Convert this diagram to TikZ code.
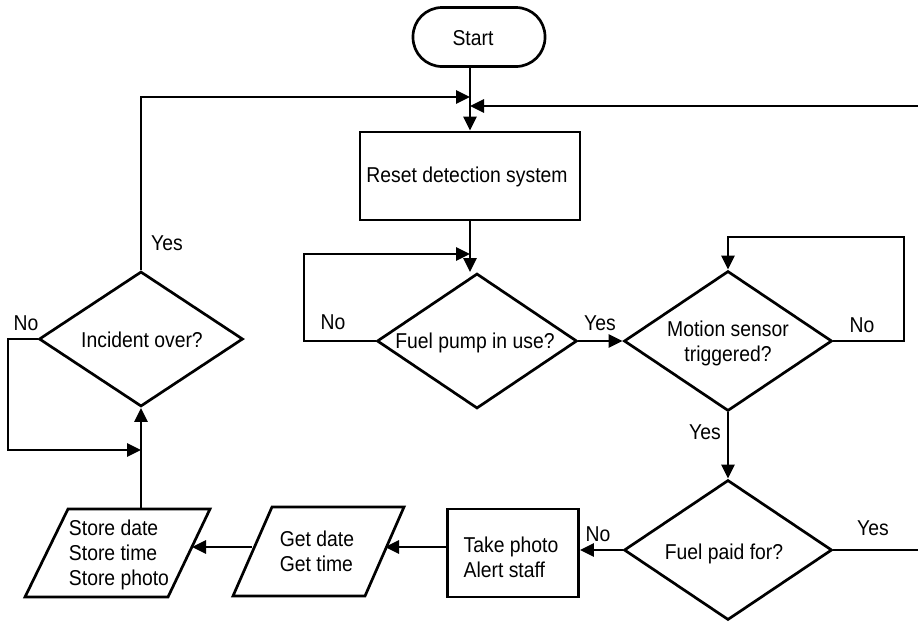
\documentclass[tikz,border=0pt]{standalone}
\usepackage{fontspec}
\setmainfont{Liberation Sans}[FakeStretch=0.9]
\usetikzlibrary{arrows.meta,shapes.geometric,calc}
\begin{document}
\begin{tikzpicture}[x=1pt,y=-1pt,
  every node/.style={font=\fontsize{21.5}{25}\selectfont},
  ln/.style={line width=2.7pt},
  arr/.style={ln,-{Triangle[length=14pt,width=13pt]}},
  boxst/.style={draw,line width=2.7pt,inner sep=0pt},
  dia/.style={draw,diamond,line width=2.7pt,inner sep=0pt},
  lbl/.style={inner sep=0pt}]
\useasboundingbox (0,0) rectangle (918,622);

% nodes
\node[boxst,rounded corners=29pt,minimum width=132pt,minimum height=59pt] (start) at (479,37) {};
\node[lbl] (starttxt) at (473,38) {Start};
\node[boxst,minimum width=220pt,minimum height=88pt] (reset) at (470,176) {};
\node[lbl] (resettxt) at (467,177) {Reset detection system};
\node[dia,minimum width=200pt,minimum height=135pt] (fp) at (477,341) {};
\node[lbl] (fptxt) at (475,343) {Fuel pump in use?};
\node[dia,minimum width=208pt,minimum height=140pt] (ms) at (728,341) {};
\node[lbl,align=center] (mstxt) at (728,343) {Motion sensor\\triggered?};
\node[dia,minimum width=208pt,minimum height=140pt] (fpd) at (728,550) {};
\node[lbl] (fpdtxt) at (724,554) {Fuel paid for?};
\node[boxst,minimum width=131pt,minimum height=88pt] (take) at (513,553) {};
\node[lbl,align=left] (taketxt) at (511,557) {Take photo\\Alert staff};
\node[dia,minimum width=204pt,minimum height=135pt] (inc) at (141,339) {};
\node[lbl] (inctxt) at (142,340) {Incident over?};

% parallelograms
\draw[ln] (272,507) -- (404,507) -- (365,596) -- (233,596) -- cycle;
\node[lbl,align=left] (gettxt) at (317,551) {Get date\\Get time};
\draw[ln] (68,509) -- (210,509) -- (168,597) -- (25,597) -- cycle;
\node[lbl,align=left] (storetxt) at (119,555) {Store date\\Store time\\Store photo};
\coordinate (getE) at (385,547);
\coordinate (getW) at (252,547);
\coordinate (stoE) at (192,547);
\coordinate (stoN) at (141,509);

% connectors
\draw[arr] (start.south -| reset.north) -- (reset.north);
\draw[arr] (reset.south) -- (reset.south |- fp.north);
\coordinate (fpl) at (304,254);
\draw[arr] (fp.west) -| (fpl) -- (fpl -| reset.south);
\draw[arr] (fp.east) -- (ms.west);
\coordinate (msl) at (904,237);
\draw[arr] (ms.east) -| (msl) -- (msl -| ms.north) -- (ms.north);
\draw[arr] (ms.south) -- (fpd.north);
\coordinate (rx) at (918,550);
\draw[ln] (fpd.east) -- (rx);
\coordinate (rt) at (918,106);
\draw[arr] (rt) -- (rt -| reset.north);
\draw[arr] (fpd.west) -- (fpd.west -| take.east);
\draw[arr] (getE -| take.west) -- (getE);
\draw[arr] (getW) -- (stoE);
\draw[arr] (stoN) -- (stoN |- inc.south);
\coordinate (il) at (8,450);
\draw[arr] (inc.west) -| (il) -- (il -| stoN);
\coordinate (jt) at (141,97);
\draw[arr] (inc.north) -- (jt) -- (jt -| reset.north);

% labels
\node[lbl] (l1) at (167,243) {Yes};
\node[lbl] (l2) at (26,323) {No};
\node[lbl] (l3) at (333,322) {No};
\node[lbl] (l4) at (600,323) {Yes};
\node[lbl] (l5) at (862,325) {No};
\node[lbl] (l6) at (705,432) {Yes};
\node[lbl] (l7) at (873,528) {Yes};
\node[lbl] (l8) at (598,534) {No};
\end{tikzpicture}
\end{document}
